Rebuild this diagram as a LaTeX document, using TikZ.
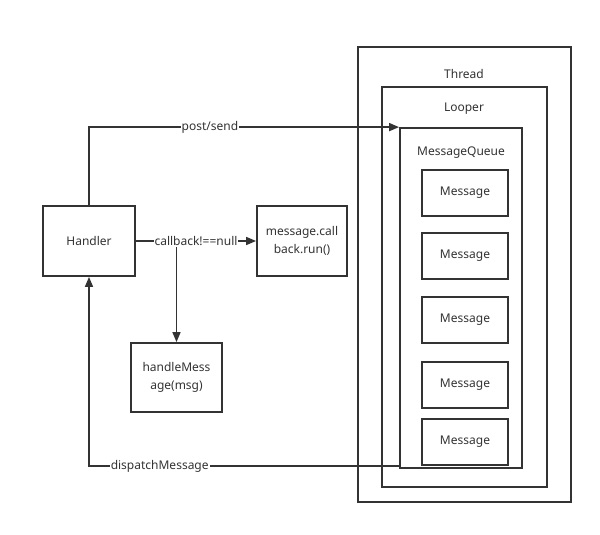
\documentclass[tikz,border=0pt]{standalone}
\usepackage{fontspec}
\setmainfont{Noto Sans}
\usepackage{xcolor}
\usetikzlibrary{arrows.meta, positioning}
\definecolor{lnkgray}{HTML}{333333}

\begin{document}
\begin{tikzpicture}[
  x=1pt, y=-1pt,
  box/.style={rectangle, draw=lnkgray, line width=1.9pt, inner sep=0pt,
    align=center, text=lnkgray},
  frame/.style={rectangle, draw=lnkgray, line width=1.8pt, inner sep=0pt},
  title/.style={text=lnkgray, inner sep=0pt},
  flow/.style={-{Triangle[length=10pt, width=8pt]}, line width=1.6pt, lnkgray},
  tag/.style={fill=white, inner sep=1pt, text=lnkgray},
  font=\fontsize{12}{18}\selectfont,
]
  \useasboundingbox[fill=white] (0,0) rectangle (600,535);

  % nested containers
  \node[frame, minimum width=213pt, minimum height=455pt] (thread) at (464.5,274.5) {};
  \node[frame, minimum width=165pt, minimum height=400pt] (looper) at (464.5,287) {};
  \node[frame, minimum width=122pt, minimum height=340pt] (queue) at (461,298) {};
  \node[title] (threadlbl) at (464,74) {Thread};
  \node[title] (looperlbl) at (464,109) {Looper};
  \node[title] (queuelbl) at (461,153) {MessageQueue};

  % messages in the queue
  \node[box, minimum width=86pt, minimum height=46pt] (msg1) at (465,193) {Message};
  \node[box, minimum width=86pt, minimum height=46pt] (msg2) at (465,256) {Message};
  \node[box, minimum width=86pt, minimum height=46pt] (msg3) at (465,320) {Message};
  \node[box, minimum width=86pt, minimum height=46pt] (msg4) at (465,385) {Message};
  \node[box, minimum width=86pt, minimum height=46pt] (msg5) at (465,442) {Message};

  % handler side
  \node[box, minimum width=92pt, minimum height=70pt] (handler) at (89,241) {Handler};
  \node[box, minimum width=90pt, minimum height=70pt] (cbrun) at (302,241) {message.call\\back.run()};
  \node[box, minimum width=91pt, minimum height=69pt] (handlemsg) at (176.5,377.5) {handleMess\\age(msg)};

  \coordinate (dispatchout) at ([yshift=3pt]queue.south west);

  \draw[flow] (handler.north) |- node[tag, pos=0.695] {post/send} (queue.north west);
  \draw[flow] (handlemsg.north |- handler.east) -- (handlemsg.north);
  \draw[flow] (handler.east) -- node[tag] {callback!==null} (cbrun.west);
  \draw[flow] (dispatchout) -| node[tag, pos=0.386] {dispatchMessage} (handler.south);
\end{tikzpicture}
\end{document}
